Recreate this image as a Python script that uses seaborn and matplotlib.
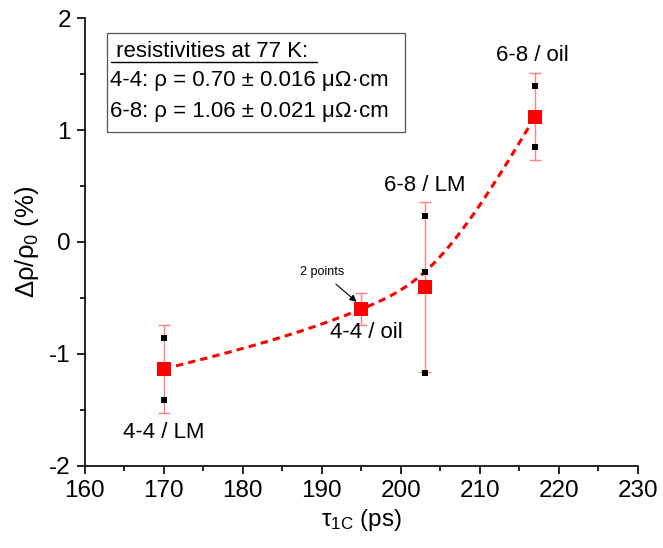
import numpy as np
import pandas as pd
import seaborn as sns
import matplotlib.pyplot as plt
from matplotlib.lines import Line2D
from matplotlib.ticker import MultipleLocator

# data
tau = [170, 195, 203, 217]
labels = ['4-4 / LM', '4-4 / oil', '6-8 / LM', '6-8 / oil']
raw_points = [[-0.86, -1.41], [-0.60, -0.60], [0.23, -0.27, -1.17], [1.39, 0.85]]
errors = [0.39, 0.14, 0.76, 0.39]

raw_df = pd.DataFrame([(t, v) for t, pts in zip(tau, raw_points) for v in pts],
                      columns=['tau', 'drho'])
mean_df = raw_df.groupby('tau', as_index=False)['drho'].mean()
median_df = raw_df.groupby('tau', as_index=False)['drho'].median()


def natural_spline(x, y, n=200):
    # natural cubic spline through the medians (dashed guide line)
    x = np.asarray(x, float)
    y = np.asarray(y, float)
    k = len(x)
    h = np.diff(x)
    A = np.zeros((k, k))
    b = np.zeros(k)
    A[0, 0] = A[-1, -1] = 1
    for i in range(1, k - 1):
        A[i, i - 1] = h[i - 1]
        A[i, i] = 2 * (h[i - 1] + h[i])
        A[i, i + 1] = h[i]
        b[i] = 6 * ((y[i + 1] - y[i]) / h[i] - (y[i] - y[i - 1]) / h[i - 1])
    M = np.linalg.solve(A, b)
    xs = np.linspace(x[0], x[-1], n)
    idx = np.clip(np.searchsorted(x, xs) - 1, 0, k - 2)
    x0, x1, hh = x[idx], x[idx + 1], h[idx]
    ys = (M[idx] * (x1 - xs) ** 3 / (6 * hh) + M[idx + 1] * (xs - x0) ** 3 / (6 * hh)
          + (y[idx] / hh - M[idx] * hh / 6) * (x1 - xs)
          + (y[idx + 1] / hh - M[idx + 1] * hh / 6) * (xs - x0))
    return pd.DataFrame({'tau': xs, 'drho': ys})


curve_df = natural_spline(median_df['tau'], median_df['drho'])

sns.set_style('ticks')
plt.rcParams['font.family'] = ['Liberation Sans', 'DejaVu Sans']
plt.rcParams['mathtext.fontset'] = 'custom'
plt.rcParams['mathtext.rm'] = 'Liberation Sans'
plt.rcParams['mathtext.it'] = 'Liberation Sans'
plt.rcParams['axes.unicode_minus'] = False
plt.rcParams['text.color'] = 'black'
plt.rcParams['axes.labelcolor'] = 'black'
plt.rcParams['xtick.color'] = 'black'
plt.rcParams['ytick.color'] = 'black'

fig = plt.figure(figsize=(6.63, 5.48), dpi=100)
ax = fig.add_axes([0.128, 0.150, 0.834, 0.817])

ax.errorbar(mean_df['tau'], mean_df['drho'], yerr=errors, fmt='none',
            ecolor='#ff8080', elinewidth=1.0, capsize=4, capthick=1.0, zorder=1)
sns.lineplot(data=curve_df, x='tau', y='drho', ax=ax, color='red',
             linestyle=(0, (2.4, 1.7)), linewidth=2.2, zorder=2)
sns.scatterplot(data=raw_df, x='tau', y='drho', ax=ax, marker='s', s=14,
                color='black', edgecolor='black', linewidth=0, zorder=3)
sns.scatterplot(data=mean_df, x='tau', y='drho', ax=ax, marker='s', s=105,
                color='red', edgecolor='red', linewidth=0, zorder=4)

label_pos = [(170, -1.70), (195.6, -0.81), (203.0, 0.50), (216.6, 1.67)]
for txt, (x, y) in zip(labels, label_pos):
    ax.text(x, y, txt, ha='center', va='center', fontsize=16)

ax.annotate('2 points', xy=(194.4, -0.535), xytext=(190.0, -0.27),
            ha='center', va='center', fontsize=9,
            arrowprops=dict(arrowstyle='-|>', color='black', lw=0.8,
                            mutation_scale=10, shrinkA=3, shrinkB=0))

# resistivity box
box_lines = [' resistivities at 77 K:', '4-4: ρ = 0.70 ± 0.016 μΩ·cm',
             '6-8: ρ = 1.06 ± 0.021 μΩ·cm']
for txt, yy in zip(box_lines, [0.912, 0.848, 0.780]):
    ax.text(0.046, yy, txt, transform=ax.transAxes, fontsize=16,
            va='baseline', ha='left')
ax.add_patch(plt.Rectangle((0.040, 0.746), 0.539, 0.221, transform=ax.transAxes,
                           fill=False, edgecolor='#555555', linewidth=0.9, zorder=5))
ax.add_line(Line2D([0.047, 0.42], [0.903, 0.903], transform=ax.transAxes,
                   color='black', linewidth=1.0))

ax.set_xlim(160, 230)
ax.set_ylim(-2, 2)
ax.xaxis.set_major_locator(MultipleLocator(10))
ax.xaxis.set_minor_locator(MultipleLocator(5))
ax.yaxis.set_major_locator(MultipleLocator(1))
ax.yaxis.set_minor_locator(MultipleLocator(0.5))
ax.tick_params(which='major', length=6, width=1.2, labelsize=17.5, pad=4)
ax.tick_params(which='minor', length=3.5, width=1.2)
sns.despine(ax=ax)
for s in ['left', 'bottom']:
    ax.spines[s].set_linewidth(1.2)
    ax.spines[s].set_color('black')

ax.set_xlabel('τ$_{\\rm 1C}$ (ps)', fontsize=17.5, labelpad=4)
ax.set_ylabel('Δρ/ρ$_{\\rm 0}$ (%)', fontsize=18.5, labelpad=6)

fig.savefig('out.png', dpi=100)
